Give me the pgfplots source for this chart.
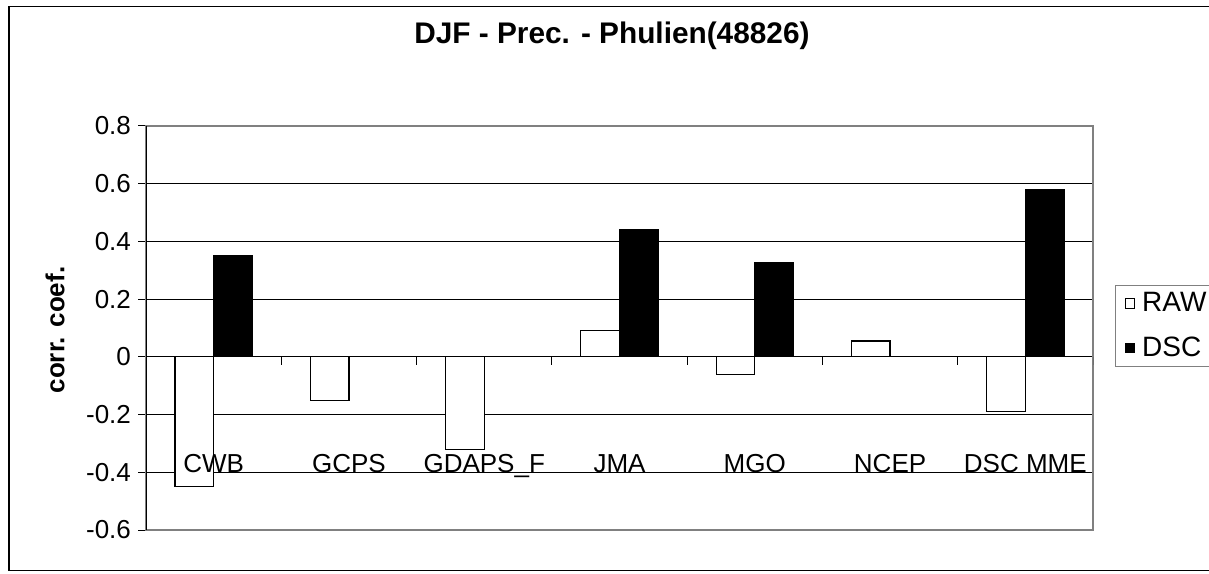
\documentclass[border=0pt]{standalone}
\usepackage{fontspec}
\setmainfont{Liberation Sans}
\usepackage{pgfplots}
\pgfplotsset{compat=1.18}
\tikzset{catlab/.style={anchor=base, inner sep=0pt, font=\fontsize{13}{15}\selectfont}}
\begin{document}
\begin{tikzpicture}
\path[use as bounding box] (0,0) rectangle (604.5pt,286.5pt);
\clip (0,0) rectangle (604.5pt,286.5pt);
\draw[line width=0.6pt] (4.5pt,1.2pt) rectangle (620pt,283.3pt);
\begin{axis}[
  at={(73pt,21.5pt)}, anchor=south west,
  scale only axis, width=473.5pt, height=202pt,
  ybar=0pt, bar width=0.2857,
  xmin=-0.5, xmax=6.5, ymin=-0.6, ymax=0.8,
  ytick={-0.6,-0.4,-0.2,0,0.2,0.4,0.6,0.8},
  yticklabels={-0.6,-0.4,-0.2,0,0.2,0.4,0.6,0.8},
  xtick=\empty,
  ytick pos=left, tick align=outside, major tick length=4pt,
  ytick style={black, line width=0.5pt},
  ticklabel style={font=\fontsize{13}{15}\selectfont},
  ymajorgrids, major grid style={black, line width=0.5pt},
  axis line style={gray, line width=0.6pt},
  title={DJF - Prec. - Phulien(48826)},
  title style={at={(axis description cs:0.492,1.193)}, anchor=center, font=\fontsize{14.9}{17}\selectfont\bfseries},
  ylabel={corr. coef.},
  ylabel style={at={(axis description cs:-0.0961,0.495)}, anchor=center, font=\fontsize{13}{15}\selectfont\bfseries},
  legend style={at={(axis description cs:1.0232,0.6064)}, anchor=north west, draw=gray, line width=0.6pt,
    font=\fontsize{14}{16}\selectfont, row sep=7pt, inner xsep=4.5pt, inner ysep=1.5pt,
    nodes={inner xsep=3.5pt}},
  legend cell align=left,
]
\addplot[draw=black, fill=white, line width=0.6pt,
  legend image code/.code={\draw[draw=black, fill=white, line width=0.5pt] (0pt,-2.4pt) rectangle (4.8pt,2.4pt);}]
  coordinates {(0,-0.45) (1,-0.15) (2,-0.32) (3,0.09) (4,-0.062) (5,0.055) (6,-0.19)};
\addplot[draw=black, fill=black, line width=0.6pt,
  legend image code/.code={\draw[draw=black, fill=black, line width=0.5pt] (0pt,-2.4pt) rectangle (4.8pt,2.4pt);}]
  coordinates {(0,0.35) (3,0.44) (4,0.325) (6,0.58)};
\legend{RAW,DSC}
\draw[black, line width=0.6pt] (axis cs:-0.5,-0.6) -- (axis cs:-0.5,0.8);
\pgfplotsinvokeforeach{0.5,1.5,2.5,3.5,4.5,5.5,6.5}{\draw[black,line width=0.5pt] (axis cs:#1,0) -- ([yshift=-4pt]axis cs:#1,0);}
\node[catlab] at (axis cs:0,-0.4) {CWB};
\node[catlab] at (axis cs:1,-0.4) {GCPS};
\node[catlab] at (axis cs:2,-0.4) {GDAPS\_F};
\node[catlab] at (axis cs:3,-0.4) {JMA};
\node[catlab] at (axis cs:4,-0.4) {MGO};
\node[catlab] at (axis cs:5,-0.4) {NCEP};
\node[catlab] at (axis cs:6,-0.4) {DSC MME};
\end{axis}
\end{tikzpicture}
\end{document}
